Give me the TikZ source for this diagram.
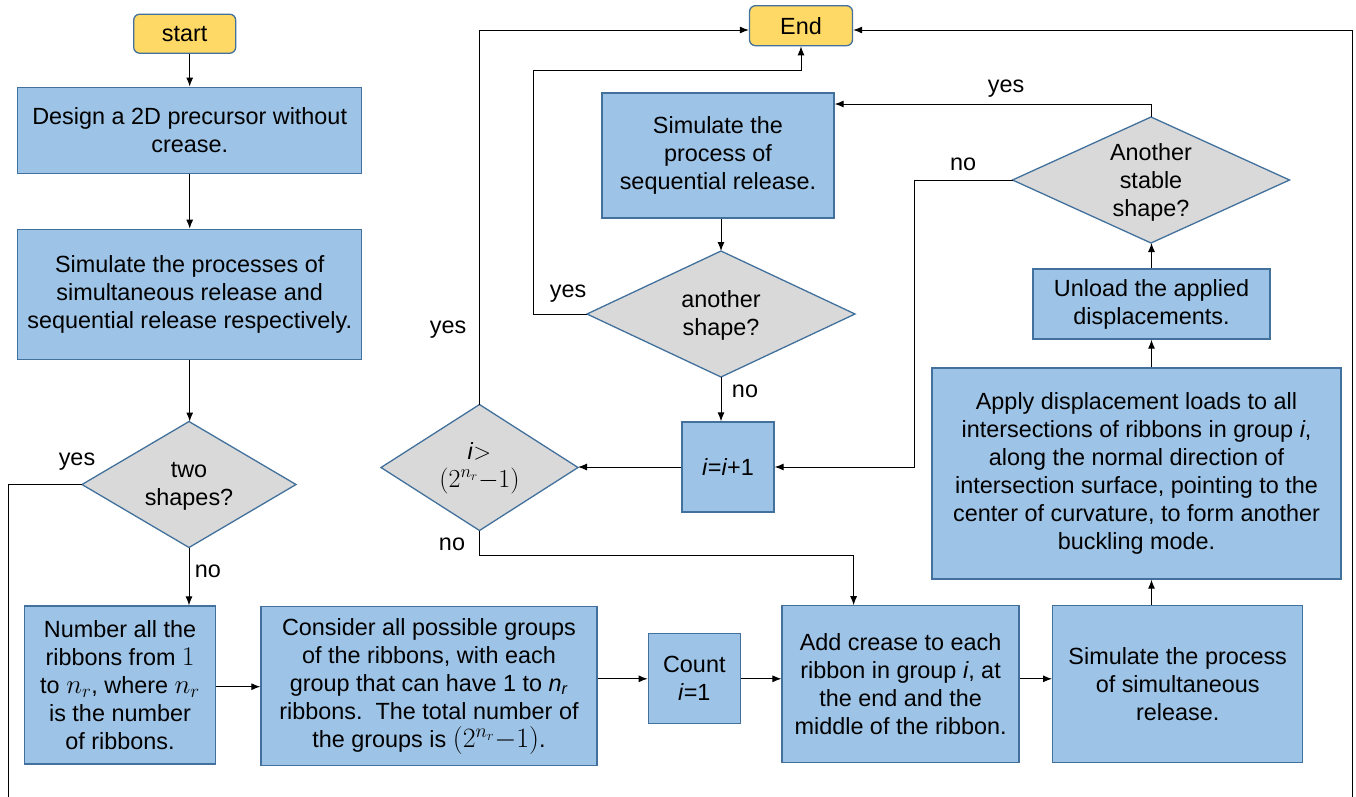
\RequirePackage{fix-cm}
\documentclass[tikz,border=0pt]{standalone}
\usepackage{fontspec}
\setmainfont{Liberation Sans}
\usetikzlibrary{shapes.geometric,arrows.meta,calc}
\definecolor{boxfill}{HTML}{9DC3E6}
\definecolor{boxline}{HTML}{41719C}
\definecolor{diafill}{HTML}{D9D9D9}
\definecolor{termfill}{HTML}{FFD966}
\newcommand{\mathbig}[2]{{\fontsize{#1}{28}\selectfont$#2$}}
\begin{document}
\begin{tikzpicture}[x=1pt,y=-1pt,
  every node/.style={font=\fontsize{23.4}{28}\selectfont, inner sep=0pt, align=center},
  procbox/.style={draw=boxline, fill=boxfill, line width=1.3pt, rectangle},
  termbox/.style={draw=boxline, fill=termfill, line width=1.3pt, rectangle, rounded corners=6pt},
  decbox/.style={draw=boxline, fill=diafill, line width=1.3pt, diamond, outer sep=0pt},
  arr/.style={draw=black, line width=1pt, -{Latex[length=9pt,width=7pt]}},
  ln/.style={draw=black, line width=1pt}]
\useasboundingbox (0,0) rectangle (1356,796);

% terminals
\node[termbox, minimum width=102pt, minimum height=39pt] (start) at (184.7,33.7) {start};
\node[termbox, minimum width=103pt, minimum height=40pt] (End) at (801,25.7) {End};

% left column
\node[procbox, minimum width=344pt, minimum height=86pt] (design) at (189.7,130.2)
  {Design a 2D precursor without\\crease.};
\node[procbox, minimum width=344pt, minimum height=130pt] (simp) at (189.7,294.3)
  {Simulate the processes of\\simultaneous release and\\sequential release respectively.};
\node[decbox, minimum width=214pt, minimum height=126pt] (two) at (189,484.5) {};
\node (twot) at (189,486.5) {two\\shapes?};

% bottom row
\node[procbox, minimum width=191pt, minimum height=158pt] (num) at (120,685)
  {Number all the\\ribbons from \mathbig{27}{1}\\to \mathbig{27}{n_r}, where \mathbig{27}{n_r}\\is the number\\of ribbons.};
\node[procbox, minimum width=336pt, minimum height=159pt] (con) at (429,686.3)
  {Consider all possible groups\\of the ribbons, with each\\group that can have 1 to \textit{n}\textsubscript{\textit{r}}\\ribbons.\ \ The total number of\\the groups is \mathbig{28}{(2^{n_r}{-}1)}.};
\node[procbox, minimum width=92pt, minimum height=90pt] (cnt) at (694.3,678.8)
  {Count\\\textit{i}=1};
\node[procbox, minimum width=237pt, minimum height=157pt] (add) at (900.6,684.3)
  {Add crease to each\\ribbon in group \textit{i}, at\\the end and the\\middle of the ribbon.};
\node[procbox, minimum width=250pt, minimum height=157pt] (sims) at (1177.7,683.8)
  {Simulate the process\\of simultaneous\\release.};

% right column
\node[procbox, minimum width=409pt, minimum height=211pt] (app) at (1136.5,473.5)
  {Apply displacement loads to all\\intersections of ribbons in group \textit{i},\\along the normal direction of\\intersection surface, pointing to the\\center of curvature, to form another\\buckling mode.};
\node[procbox, minimum width=237pt, minimum height=70pt] (unl) at (1151.5,304)
  {Unload the applied\\displacements.};
\node[decbox, minimum width=277pt, minimum height=126pt] (asd) at (1151,180) {};
\node (asdt) at (1151,182) {Another\\stable\\shape?};

% middle
\node[procbox, minimum width=232pt, minimum height=125pt] (seq) at (718,155.5)
  {Simulate the\\process of\\sequential release.};
\node[decbox, minimum width=268pt, minimum height=126pt] (ash) at (721,314) {};
\node (asht) at (721,315) {another\\shape?};
\node[procbox, minimum width=92pt, minimum height=90pt] (inc) at (728,467)
  {\textit{i}=\textit{i}+1};
\node[decbox, minimum width=197pt, minimum height=126pt] (gt) at (479.5,467.5) {};
\node (gtt) at (479.5,468) {\textit{i}$>$\\\mathbig{26}{(2^{n_r}{-}1)}};

% free ends
\coordinate (lb) at (8,800);
\coordinate (rb) at (1352,800);

% labels
\node (l1) at (77,462) {yes};
\node (l2) at (208,571) {no};
\node (l3) at (448,330) {yes};
\node (l4) at (452,544) {no};
\node (l5) at (568,294) {yes};
\node (l6) at (745,391) {no};
\node (l7) at (1006,89) {yes};
\node (l8) at (963,164) {no};

% connectors
\draw[arr] (design.north |- start.south) -- (design.north);
\draw[arr] (design.south) -- (simp.north);
\draw[arr] (simp.south) -- (simp.south |- two.north);
\draw[arr] (two.south) -- (two.south |- num.north);
\draw[ln] (two.west) -| (lb);
\draw[arr] (num.east |- 0,686.7) -- (con.west |- 0,686.7);
\draw[arr] (con.east |- cnt.west) -- (cnt.west);
\draw[arr] (cnt.east) -- (cnt.east -| add.west);
\draw[arr] (add.east |- cnt.east) -- (sims.west |- cnt.east);
\draw[arr] (sims.north -| unl.south) -- (app.south -| unl.south);
\draw[arr] (app.north -| unl.south) -- (unl.south);
\draw[arr] (unl.north) -- (unl.north |- asd.south);
\draw[arr] (asd.north) |- ([yshift=51.5pt]seq.east);
\draw[arr] (asd.west) -- ++(-98,0) |- (inc.east);
\draw[arr] (seq.south -| ash.north) -- (ash.north);
\draw[arr] (ash.south) -- (ash.south |- inc.north);
\draw[arr] (ash.west) -- ++(-54,0) |- ([yshift=-24.3pt]End.south) -- (End.south);
\draw[arr] (inc.west) -- (inc.west -| gt.east);
\draw[arr] (gt.north) |- ([yshift=-4.3pt]End.west);
\draw[arr] (gt.south) -- ++(0,25) -| ([xshift=-47pt]add.north);
\draw[arr] (rb) |- ([yshift=-4.3pt]End.east);
\end{tikzpicture}
\end{document}
